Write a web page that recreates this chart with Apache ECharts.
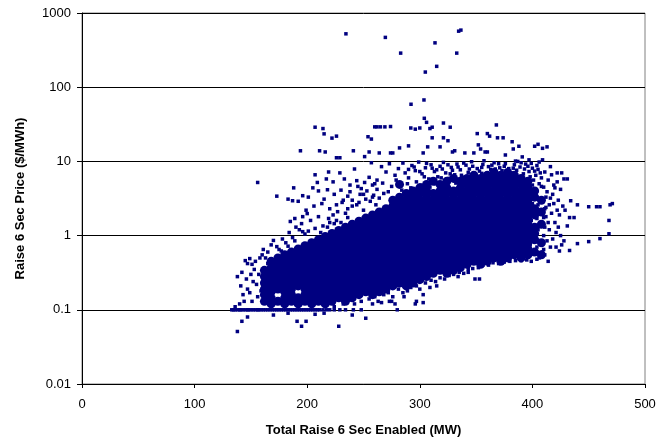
<!DOCTYPE html>
<html>
<head>
<meta charset="utf-8">
<script src="https://cdn.jsdelivr.net/npm/echarts@6/dist/echarts.min.js"></script>
<style>
html,body{margin:0;padding:0;background:#fff;}
#chart{width:669px;height:442px;}
</style>
</head>
<body>
<div id="chart"></div>
<script>
// ---- data ----
const xAxisTitle = "Total Raise 6 Sec Enabled (MW)";
const yAxisTitle = "Raise 6 Sec Price ($/MWh)";
const xTicks = [0, 100, 200, 300, 400, 500];
const yTicks = [0.01, 0.1, 1, 10, 100, 1000];

// dense core of the cloud: enabled MW columns and the prices densely covered in each
const coreMW = [162,168,174,180,186,192,198,204,210,216,222,228,234,240,246,252,258,264,270,276,282,288,294,300,306,312,318,324,330,336,342,348,354,360,366,372,378,384,390,396,402,408];
const corePrice = [
  [0.13,0.16,0.19,0.23,0.28,0.34],
  [0.12,0.145,0.175,0.21,0.255,0.31,0.37,0.45],
  [0.13,0.19,0.23,0.28,0.34,0.41,0.5],
  [0.12,0.145,0.175,0.21,0.255,0.31,0.37,0.45,0.55],
  [0.13,0.16,0.19,0.23,0.28,0.34,0.41,0.5,0.6],
  [0.12,0.145,0.21,0.255,0.31,0.37,0.45,0.55,0.66],
  [0.13,0.16,0.19,0.23,0.28,0.34,0.41,0.5,0.6,0.73],
  [0.12,0.145,0.175,0.21,0.255,0.31,0.37,0.45,0.55,0.66,0.8],
  [0.13,0.16,0.19,0.23,0.28,0.34,0.41,0.5,0.6,0.73,0.88],
  [0.12,0.145,0.175,0.21,0.255,0.31,0.37,0.45,0.55,0.66,0.8,0.97],
  [0.13,0.16,0.19,0.23,0.28,0.34,0.41,0.5,0.6,0.73,0.88,1.07],
  [0.145,0.175,0.21,0.255,0.31,0.37,0.45,0.55,0.66,0.8,0.97,1.17],
  [0.13,0.16,0.19,0.23,0.28,0.34,0.41,0.5,0.6,0.73,0.88,1.07,1.3],
  [0.145,0.175,0.21,0.255,0.31,0.37,0.45,0.55,0.66,0.8,0.97,1.17,1.42],
  [0.16,0.19,0.23,0.28,0.34,0.41,0.5,0.6,0.73,0.88,1.07,1.3,1.56],
  [0.175,0.21,0.255,0.31,0.37,0.45,0.55,0.66,0.8,0.97,1.17,1.42,1.72],
  [0.16,0.19,0.23,0.28,0.34,0.41,0.5,0.6,0.73,0.88,1.07,1.3,1.56,1.9],
  [0.175,0.21,0.255,0.31,0.37,0.45,0.55,0.66,0.8,0.97,1.17,1.42,1.72,2.08],
  [0.19,0.23,0.28,0.34,0.41,0.5,0.6,0.73,0.88,1.07,1.3,1.56,1.9,2.3],
  [0.21,0.255,0.31,0.37,0.45,0.55,0.66,0.8,0.97,1.17,1.42,1.72,2.08,2.5,3.0],
  [0.23,0.28,0.34,0.41,0.5,0.6,0.73,0.88,1.07,1.3,1.56,1.9,2.3,2.75,3.3,4.9],
  [0.21,0.255,0.31,0.37,0.45,0.55,0.66,0.8,0.97,1.17,1.42,1.72,2.08,2.5,3.0,3.7],
  [0.23,0.28,0.34,0.41,0.5,0.6,0.73,0.88,1.07,1.3,1.56,1.9,2.3,2.75,3.3,4.0],
  [0.255,0.31,0.37,0.45,0.55,0.66,0.8,0.97,1.17,1.42,1.72,2.08,2.5,3.0,3.7,4.4],
  [0.28,0.34,0.41,0.5,0.6,0.73,0.88,1.07,1.3,1.56,1.9,2.3,2.75,3.3,4.0,4.9],
  [0.31,0.37,0.45,0.55,0.66,0.8,0.97,1.17,1.42,1.72,2.08,2.5,3.0,3.7,5.4],
  [0.34,0.41,0.5,0.6,0.73,0.88,1.07,1.3,1.56,1.9,2.3,2.75,3.3,4.0,4.9],
  [0.31,0.37,0.45,0.55,0.66,0.8,0.97,1.17,1.42,1.72,2.08,2.5,3.0,3.7,4.4,5.4],
  [0.34,0.41,0.5,0.6,0.73,0.88,1.07,1.3,1.56,1.9,2.3,2.75,3.3,4.0,5.9],
  [0.37,0.45,0.55,0.66,0.8,0.97,1.17,1.42,1.72,2.08,2.5,3.0,3.7,4.4,5.4],
  [0.41,0.5,0.6,0.73,0.88,1.07,1.3,1.56,1.9,2.3,2.75,3.3,4.0,4.9,5.9],
  [0.45,0.55,0.66,0.8,0.97,1.17,1.42,1.72,2.08,2.5,3.0,3.7,4.4,5.4,6.5],
  [0.41,0.5,0.6,0.73,0.88,1.07,1.3,1.56,1.9,2.3,2.75,3.3,4.0,4.9,5.9],
  [0.45,0.55,0.66,0.8,0.97,1.17,1.42,1.72,2.08,2.5,3.0,3.7,4.4,5.4,6.5],
  [0.5,0.6,0.73,0.88,1.07,1.3,1.56,1.9,2.3,2.75,3.3,4.0,4.9,5.9,7.1],
  [0.45,0.55,0.66,0.8,0.97,1.17,1.42,1.72,2.08,2.5,3.0,3.7,4.4,5.4,6.5],
  [0.5,0.6,0.73,0.88,1.07,1.3,1.56,1.9,2.3,2.75,3.3,4.0,4.9,5.9,7.1],
  [0.55,0.66,0.8,0.97,1.17,1.42,1.72,2.08,2.5,3.0,3.7,4.4,5.4,6.5],
  [0.5,0.6,0.73,0.88,1.07,1.3,1.56,1.9,2.3,2.75,3.3,4.0,4.9,5.9],
  [0.55,0.66,0.8,0.97,1.17,1.42,1.72,2.08,2.5,3.0,3.7,4.4,5.4],
  [0.6,0.88,1.07,1.3,1.9,2.3,3.3,4.0],
  [0.55,0.8,1.42,2.08,3.0]
];

// the many half-hours priced at the 0.1 $/MWh floor
const floorMW = [133,134.5,136,138,140,141,143,145,147,148,150,152,154,156,157,159,161,163,165,167,169,171,173,175,177,179,181,183,185,187,189,191,193,195,197,199,201,203,205,207,209,211,214,217,220,224,229,234,241,248,280];
const floorPrice = 0.1;

// individually visible points [MW, $/MWh]
const scatterPoints = [
  // left edge of the cloud
  [138,0.28],[141,0.21],[145,0.46],[149,0.49],[147,0.42],[151,0.41],[142,0.32],[146,0.26],[147,0.19],[149,0.17],
  [144,0.13],[151,0.13],[156,5.2],[153,0.35],[155,0.22],[157,0.3],[158,0.5],[156,0.15],[159,0.18],[152,0.24],
  [150,0.3],[154,0.45],[143,0.16],[140,0.12],[136,0.11],[160,0.55],[161,0.65],[165,0.42],[163,0.5],
  // below the floor
  [138,0.051],[142,0.07],[147,0.08],[191,0.07],[195,0.06],[199,0.07],[207,0.087],[228,0.06],[252,0.077],
  [273,0.13],[278,0.12],[296,0.12],[303,0.16],[315,0.21],[170,0.085],[183,0.09],[215,0.09],[240,0.085],
  // upper left scatter
  [173,3.4],[183,3.1],[188,4.4],[192,2.9],[187,2.95],[196,3.45],[201,3.3],[207,6.6],[209,5.2],[217,5.8],
  [219,7.2],[223,5.3],[229,7],[233,5.8],[242,7.9],[205,4.4],[210,4],[218,4.15],[185,1.55],[189,1.7],
  [196,1.8],[193,1.2],[196,1.13],[170,0.86],[173,0.71],[187,0.94],[200,1.98],[199,2.2],
  [165,0.6],[168,0.75],[175,0.65],[178,0.9],[181,0.8],[184,1.1],[190,1.3],[195,1.45],[198,1.05],[203,1.6],
  [206,2.5],[210,1.8],[213,2.7],[215,3.1],[220,2.3],[224,3.6],[226,2.6],[230,4.1],[232,3.0],[236,3.4],
  [238,4.8],[244,5.5],[248,4.3],[250,3.6],[255,6.1],[258,4.8],[262,5.6],[226,1.6],[214,1.35],[220,1.5],
  [234,2.0],[240,2.5],[246,2.8],[252,3.1],[258,3.3],[257,9.6],
  [236,2.3],[240,3.0],[244,2.6],[247,3.6],[250,2.2],[253,4.0],[256,2.9],[259,3.5],[261,2.6],[264,3.2],
  [268,3.7],[260,5.0],[251,5.2],[245,4.6],[238,3.9],[231,2.8],[227,2.1],[223,1.9],[219,1.7],
  [177,0.62],[183,0.72],[189,0.85],[201,1.15],[207,1.25],[212,1.1],[218,1.3],[224,1.45],[230,1.5],[236,1.75],
  // 10 - 40 $/MWh
  [207,28.9],[214,27.7],[215,23.5],[222,20.6],[226,21.9],[260,29.2],[262,29.2],[265,29.2],[269,29.2],[274,29.5],
  [292,28.2],[296,27.2],[300,28.2],[304,38.1],[306,33.6],[309,27.7],[311,28.9],[321,32.9],[327,28.9],[351,23.7],
  [360,23.7],[362,21.9],[368,31],[311,20.8],[369,20.8],[374,20.8],[321,20.8],[325,19],[318,15.7],[307,15.7],
  [290,16.2],[282,15.2],[274,13],[276,13],[303,13],[352,16.7],[354,14.7],[358,13.4],[360,13.4],[329,13.4],
  [331,13.9],[340,13],[348,13],[376,12.2],[194,13.9],[211,13.9],[216,13.4],[226,11.2],[229,11.2],[241,13.9],
  [251,11.6],[255,13.4],[254,21.5],[257,20],[264,13],
  [402,16],[405,17],[409,15],[413,15.7],[388,16],[383,14.7],[382,18.4],[391,11.5],[397,10.5],[387,10],
  [406,9.8],[409,10.5],
  // extreme prices
  [234.4,524],[269.4,469],[283,288],[313.5,396],[304.9,160],[315,191],[332.8,288],[334.5,569],[336.5,588],
  [292.2,58.9],[303.7,67.3],
  // 5 - 10 $/MWh band
  [266,8.5],[270,7.2],[273,9.3],[278,6.5],[281,8.0],[285,9.5],[287,7.0],[290,6.0],[293,8.8],[296,7.5],
  [299,9.8],[302,6.8],[305,8.2],[308,5.8],[310,9.0],[313,7.3],[316,6.2],[318,8.6],[321,9.7],[323,7.0],
  [326,5.9],[328,8.3],[331,6.6],[333,9.2],[336,7.7],[338,6.1],[341,8.9],[343,7.1],[346,9.9],[349,6.4],
  [351,8.0],[353,7.4],[356,9.1],[358,6.7],[361,8.5],[363,7.8],[366,9.6],[368,6.9],[371,8.2],[373,7.5],
  [376,9.3],[379,8.0],[381,7.0],[384,9.0],[386,7.6],[389,8.4],[392,6.8],[394,9.2],[397,7.3],[400,8.1],
  [403,6.5],[405,7.8],[408,6.0],[411,7.2],[414,5.6],[417,6.6],[419,4.8],[422,5.3],[425,4.2],[428,5.8],
  [431,5.8],[426,7],[416,8.5],[422,7],
  [334,8.4],[339,9.5],[344,7.9],[347,8.6],[355,8.3],[357,10.2],[364,8.9],[367,7.9],[370,9.3],[375,8.6],
  [378,7.3],[383,8.1],[385,10.1],[390,9.6],[393,7.9],[396,8.6],[399,9.4],[402,7.4],[404,8.8],[407,7.0],
  [290,7.8],[295,8.4],[300,7.3],[306,9.4],[311,8.1],[315,7.7],[320,7.9],[325,9.0],[329,7.6],
  [262,4.2],[267,5.1],[272,3.9],[275,4.6],[279,5.6],[284,4.1],[289,5.0],[292,4.4],[297,5.3],[301,4.8],
  [304,6.2],[309,4.5],[314,5.0],[319,6.0],[322,4.7],[327,6.8],[332,5.1],[337,6.5],[340,5.0],[345,6.3],
  [350,5.6],[355,6.9],[359,5.9],[364,6.4],[369,5.5],[374,6.8],[377,5.2],[382,6.3],[387,5.8],[393,5.1],
  [398,6.2],[401,5.6],[406,5.0],[410,4.5],[413,3.9],[416,3.2],[419,2.7],[422,2.2],[412,1.8],[415,1.2],
  // right edge of the core
  [404,0.7],[405,1.2],[404,1.7],[405,2.6],[406,0.5],[410,0.65],[410,1.0],[411,1.3],[410,1.75],[411,2.3],
  [412,3.3],[413,0.85],[414,1.5],[415,2.6],[408,4.6],[400,4.8],[398,0.75],[399,1.6],[400,2.7],
  // right tail
  [418,0.9],[421,0.7],[424,0.62],[414,0.45],[425,1.0],[433,0.63],[433,1.75],[437,1.75],[434,2.95],[440,2.6],
  [450,2.45],[457,2.45],[460,2.45],[469,2.6],[471,2.7],[468,1.6],[468,1.06],[460,0.91],[450,0.83],[440,0.78],
  [418,3.6],[420,4.4],[423,3.0],[427,2.5],[420,1.5],[423,1.3],[411,0.55],[416,0.7],[409,0.6],[426,0.75],
  [412,2.4],[417,2.0],[421,1.1],[424,1.9],[428,0.85],[431,1.35],[429,2.2],
  // lower edge
  [242,0.12],[248,0.13],[255,0.14],[260,0.15],[263,0.13],[268,0.16],[272,0.17],[276,0.15],[281,0.19],[285,0.17],
  [289,0.18],[292,0.2],[297,0.21],[300,0.19],[305,0.23],[310,0.25],[314,0.24],[318,0.27],[322,0.26],[326,0.29],
  [330,0.3],[335,0.32],[339,0.31],[343,0.35],[347,0.36],[352,0.37],[356,0.4],[361,0.4],[365,0.43],[370,0.42],
  [375,0.44],[380,0.45],[385,0.46],[390,0.46],[395,0.47],[399,0.45],[404,0.48],[258,0.12],[266,0.125],[286,0.15],
  [309,0.2],[232,0.12],[224,0.11],[349,0.26],[353,0.26],[343,0.32],[334,0.28],[303,0.125],[297,0.13],[275,0.13]
];

// ---- build series from the arrays ----
const coreData = [];
coreMW.forEach((mw, i) => corePrice[i].forEach(p => coreData.push([mw, p])));
const floorData = floorMW.map(mw => [mw, floorPrice]);

const FONT = "'Liberation Sans', Arial, sans-serif";
const NAVY = '#000080';
const chart = echarts.init(document.getElementById('chart'), null, {renderer: 'canvas'});
chart.setOption({
  animation: false,
  backgroundColor: '#ffffff',
  grid: {left: 82, right: 24, top: 13, bottom: 57, show: true, borderColor: '#808080', borderWidth: 1},
  xAxis: {
    type: 'value', min: xTicks[0], max: xTicks[xTicks.length - 1], interval: 100,
    name: xAxisTitle, nameLocation: 'middle', nameGap: 40,
    nameTextStyle: {fontFamily: FONT, fontSize: 13, fontWeight: 'bold', color: '#000'},
    axisLine: {show: true, onZero: false, lineStyle: {color: '#000', width: 1}},
    axisTick: {show: true, length: 4, inside: false, lineStyle: {color: '#000'}},
    axisLabel: {fontFamily: FONT, fontSize: 13, color: '#000', margin: 14},
    splitLine: {show: false}
  },
  yAxis: {
    type: 'log', logBase: 10, min: yTicks[0], max: yTicks[yTicks.length - 1],
    name: yAxisTitle, nameLocation: 'middle', nameGap: 55, nameRotate: 90,
    nameTextStyle: {fontFamily: FONT, fontSize: 13, fontWeight: 'bold', color: '#000'},
    axisLine: {show: true, lineStyle: {color: '#000', width: 1}},
    axisTick: {show: true, length: 5, inside: false, lineStyle: {color: '#000'}},
    axisLabel: {fontFamily: FONT, fontSize: 13, color: '#000', margin: 11,
      formatter: v => { const t = yTicks.find(k => Math.abs(Math.log10(k) - Math.log10(v)) < 1e-6); return t === undefined ? '' : String(t); }},
    splitLine: {show: true, lineStyle: {color: '#000', width: 1}}
  },
  series: [
    {type: 'scatter', data: coreData, symbol: 'circle', symbolSize: 9,
     itemStyle: {color: NAVY, opacity: 1}, silent: true},
    {type: 'scatter', data: floorData, symbol: 'rect', symbolSize: 3.5,
     itemStyle: {color: NAVY, opacity: 1}, silent: true},
    {type: 'scatter', data: scatterPoints, symbol: 'rect', symbolSize: 3.5,
     itemStyle: {color: NAVY, opacity: 1}, silent: true}
  ]
});
</script>
</body>
</html>
